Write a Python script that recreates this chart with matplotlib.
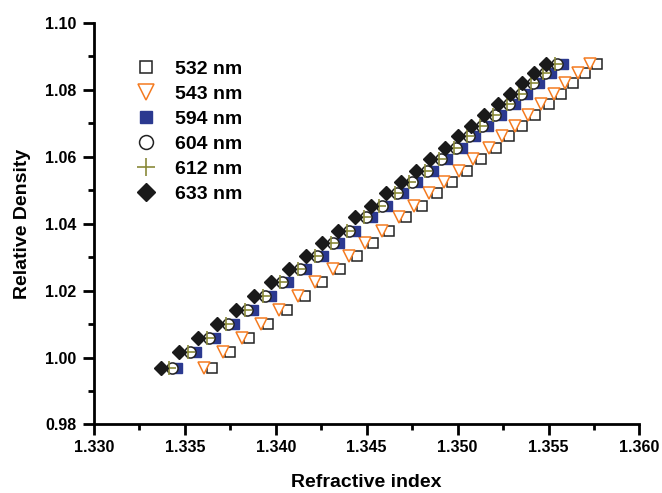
import matplotlib
matplotlib.use('Agg')
import matplotlib.pyplot as plt
from matplotlib.ticker import MultipleLocator

plt.rcParams['font.family'] = ['Liberation Sans', 'DejaVu Sans']
plt.rcParams['font.weight'] = 'bold'

# relative density (same for every wavelength)
density = [0.99691, 1.00150, 1.00569, 1.01005, 1.01414, 1.01841, 1.02259, 1.02639,
           1.03036, 1.03406, 1.03783, 1.04183, 1.04520, 1.04900, 1.05246, 1.05575,
           1.05915, 1.06262, 1.06602, 1.06910, 1.07238, 1.07567, 1.07875, 1.08185,
           1.08484, 1.08762]

# refractive index for each wavelength
n_532 = [1.33647, 1.33749, 1.33854, 1.33958, 1.34061, 1.34162, 1.34254, 1.34353,
         1.34446, 1.34533, 1.34624, 1.34716, 1.34802, 1.34885, 1.34967, 1.35051,
         1.35128, 1.35211, 1.35284, 1.35354, 1.35426, 1.35501, 1.35569, 1.35633,
         1.35701, 1.35767]
n_543 = [1.33606, 1.33708, 1.33813, 1.33917, 1.34020, 1.34121, 1.34213, 1.34312,
         1.34405, 1.34492, 1.34583, 1.34675, 1.34761, 1.34844, 1.34926, 1.35010,
         1.35087, 1.35170, 1.35243, 1.35313, 1.35385, 1.35460, 1.35528, 1.35592,
         1.35660, 1.35726]
n_594 = [1.33459, 1.33561, 1.33666, 1.33770, 1.33873, 1.33974, 1.34066, 1.34165,
         1.34258, 1.34345, 1.34436, 1.34528, 1.34614, 1.34697, 1.34779, 1.34863,
         1.34940, 1.35023, 1.35096, 1.35166, 1.35238, 1.35313, 1.35381, 1.35445,
         1.35513, 1.35579]
n_604 = [1.33428, 1.33530, 1.33635, 1.33739, 1.33842, 1.33943, 1.34035, 1.34134,
         1.34227, 1.34314, 1.34405, 1.34497, 1.34583, 1.34666, 1.34748, 1.34832,
         1.34909, 1.34992, 1.35065, 1.35135, 1.35207, 1.35282, 1.35350, 1.35414,
         1.35482, 1.35548]
n_612 = [1.33415, 1.33517, 1.33622, 1.33726, 1.33829, 1.33930, 1.34022, 1.34121,
         1.34214, 1.34301, 1.34392, 1.34484, 1.34570, 1.34653, 1.34735, 1.34819,
         1.34896, 1.34979, 1.35052, 1.35122, 1.35194, 1.35269, 1.35337, 1.35401,
         1.35469, 1.35535]
n_633 = [1.33367, 1.33469, 1.33574, 1.33678, 1.33781, 1.33882, 1.33974, 1.34073,
         1.34166, 1.34253, 1.34344, 1.34436, 1.34522, 1.34605, 1.34687, 1.34771,
         1.34848, 1.34931, 1.35004, 1.35074, 1.35146, 1.35221, 1.35289, 1.35353,
         1.35421, 1.35487]

fig = plt.figure(figsize=(6.62, 4.93), dpi=100)
ax = fig.add_axes([0.142, 0.139, 0.824, 0.815])

ax.plot(n_532, density, 's', ms=7, mfc='white', mec='#222222', mew=1.1, label='532 nm')
ax.plot(n_543, density, 'v', ms=9, mfc='white', mec='#f47b20', mew=1.1, label='543 nm')
ax.plot(n_594, density, 's', ms=7, mfc='#2b3990', mec='#2b3990', mew=1, label='594 nm')
ax.plot(n_604, density, 'o', ms=8, mfc='white', mec='#222222', mew=1.1, label='604 nm')
ax.plot(n_612, density, '+', ms=10, mec='#8a8a3a', mew=1.2, label='612 nm')
ax.plot(n_633, density, 'D', ms=7.5, mfc='#1a1a1a', mec='#1a1a1a', label='633 nm')

ax.set_xlim(1.330, 1.360)
ax.set_ylim(0.98, 1.10)
ax.xaxis.set_major_locator(MultipleLocator(0.005))
ax.xaxis.set_minor_locator(MultipleLocator(0.0025))
ax.yaxis.set_major_locator(MultipleLocator(0.02))
ax.yaxis.set_minor_locator(MultipleLocator(0.01))
ax.xaxis.set_major_formatter(plt.FormatStrFormatter('%.3f'))
ax.yaxis.set_major_formatter(plt.FormatStrFormatter('%.2f'))

for s in ['top', 'right']:
    ax.spines[s].set_visible(False)
for s in ['left', 'bottom']:
    ax.spines[s].set_linewidth(2)
ax.tick_params(which='major', direction='out', length=8, width=2, labelsize=11.5)
ax.tick_params(axis='y', which='major', pad=4.5)
ax.tick_params(which='minor', direction='out', length=4, width=2)

ax.set_xlabel('Refractive index', fontsize=14, fontweight='bold', labelpad=13)
ax.set_ylabel('Relative Density', fontsize=14, fontweight='bold', labelpad=10)

ax.legend(loc='upper left', bbox_to_anchor=(0.045, 0.95), frameon=False,
          fontsize=14, handlelength=1.0, handletextpad=1.0, labelspacing=0.38,
          markerscale=1.25)

plt.savefig('out.png', dpi=100)
